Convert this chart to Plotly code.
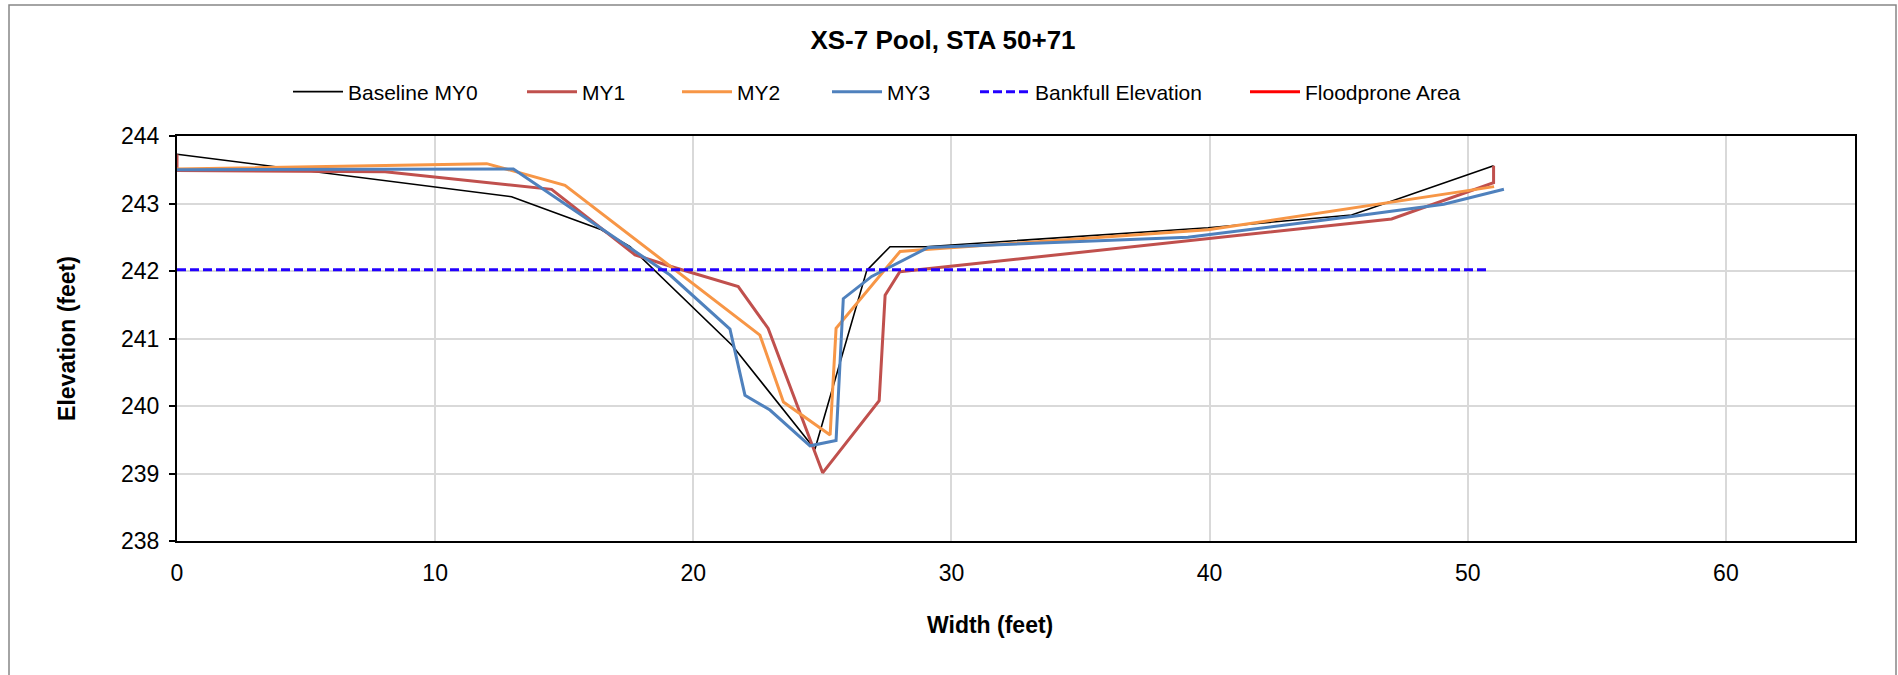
import plotly.graph_objects as go

# ---- data ----
x_my0 = [0, 12.96, 16.39, 17.55, 21.5, 24.71, 26.72, 27.62, 29.0, 39.94, 45.5, 51.0]
y_my0 = [243.73, 243.10, 242.62, 242.36, 240.9, 239.36, 242.01, 242.36, 242.36, 242.64, 242.83, 243.56]

x_my1 = [0, 0, 8.06, 14.51, 17.74, 19.2, 21.74, 22.9, 25.01, 27.2, 27.43, 28.0, 47.05, 51.0, 51.0]
y_my1 = [243.73, 243.49, 243.47, 243.21, 242.24, 242.06, 241.77, 241.15, 239.01, 240.08, 241.64, 241.99, 242.77, 243.31, 243.56]

x_my2 = [0, 12.0, 15.03, 22.58, 23.49, 25.3, 25.53, 28.01, 29.0, 39.94, 51.02]
y_my2 = [243.51, 243.59, 243.27, 241.05, 240.06, 239.57, 241.15, 242.29, 242.32, 242.61, 243.25]

x_my3 = [0, 13.03, 19.1, 21.42, 22.0, 22.97, 24.52, 25.53, 25.81, 26.91, 29.1, 39.16, 45.58, 49.07, 51.4]
y_my3 = [243.50, 243.51, 241.94, 241.14, 240.16, 239.94, 239.41, 239.49, 241.59, 241.92, 242.35, 242.50, 242.81, 242.99, 243.21]

x_bankfull = [0, 50.86]
y_bankfull = [242.02, 242.02]

# Floodprone Area has no visible points in the chart (legend entry only)
x_floodprone = [None]
y_floodprone = [None]

x_ticks = [0, 10, 20, 30, 40, 50, 60]
y_ticks = [238, 239, 240, 241, 242, 243, 244]

FONT = "Liberation Sans, Arial, sans-serif"

L, R, T, B = 177, 1855, 136, 541
W, H = 1898, 675
pw, ph = R - L, B - T


def px(x):
    return (x - L) / pw


def py(y):
    return (B - y) / ph


# last number: pixel where the legend text of the entry starts
series = [
    ("Baseline MY0", x_my0, y_my0, dict(color="#000000", width=1.6), 348),
    ("MY1", x_my1, y_my1, dict(color="#C0504D", width=3), 582),
    ("MY2", x_my2, y_my2, dict(color="#F79646", width=3), 737),
    ("MY3", x_my3, y_my3, dict(color="#4F81BD", width=3), 887),
    ("Bankfull Elevation", x_bankfull, y_bankfull,
     dict(color="#2200FF", width=3, dash="9px,4px"), 1035),
    ("Floodprone Area", x_floodprone, y_floodprone, dict(color="#FF0000", width=3), 1305),
]

fig = go.Figure()
legend_layout = {}
for i, (name, xs, ys, line, tx) in enumerate(series):
    lname = "legend" if i == 0 else f"legend{i + 1}"
    fig.add_trace(go.Scatter(x=xs, y=ys, mode="lines", name=name, line=line,
                             legend=lname, showlegend=True))
    legend_layout[lname] = dict(orientation="h", x=px(tx - 60), xanchor="left",
                                y=py(92), yanchor="middle",
                                font=dict(size=21, family=FONT, color="#000000"),
                                itemwidth=50, bgcolor="rgba(0,0,0,0)")

fig.update_layout(
    width=W, height=H,
    margin=dict(l=L, r=W - R, t=T, b=H - B, autoexpand=False),
    paper_bgcolor="white", plot_bgcolor="white",
    font=dict(family=FONT, size=23, color="#000000"),
    title=dict(text="<b>XS-7 Pool, STA 50+71</b>", x=943 / W, xanchor="center",
               y=1 - 40 / H, yanchor="middle", font=dict(size=26, family=FONT)),
    showlegend=True,
    **legend_layout,
)

fig.update_xaxes(range=[0, 65], tickvals=x_ticks, ticktext=[str(v) for v in x_ticks],
                 showgrid=True, gridcolor="#D9D9D9", gridwidth=1.5,
                 showline=True, linecolor="#000000", linewidth=2, mirror=True,
                 ticks="", ticklabelstandoff=10, zeroline=False,
                 tickfont=dict(size=23, family=FONT))
fig.update_yaxes(range=[238, 244], tickvals=y_ticks, ticktext=[str(v) for v in y_ticks],
                 showgrid=True, gridcolor="#D9D9D9", gridwidth=1.5,
                 showline=True, linecolor="#000000", linewidth=2, mirror=True,
                 ticks="outside", ticklen=6, tickcolor="#000000", tickwidth=1.5,
                 ticklabelstandoff=5, zeroline=False,
                 tickfont=dict(size=23, family=FONT),
                 title=dict(text="<b>Elevation (feet)</b>", standoff=39,
                            font=dict(size=23, family=FONT)))

fig.add_annotation(text="<b>Width (feet)</b>", xref="paper", yref="paper",
                   x=px(990), y=py(625), xanchor="center", yanchor="middle",
                   showarrow=False, font=dict(size=23, family=FONT))

# outer chart frame
fig.add_shape(type="rect", xref="paper", yref="paper",
              x0=px(9), x1=px(1896), y0=py(690), y1=py(5),
              line=dict(color="#868686", width=1.5), fillcolor="rgba(0,0,0,0)", layer="below")

fig.write_html("out.html", config={"displayModeBar": False},
               post_script="document.body.style.margin='0px';document.body.style.overflow='hidden';")
